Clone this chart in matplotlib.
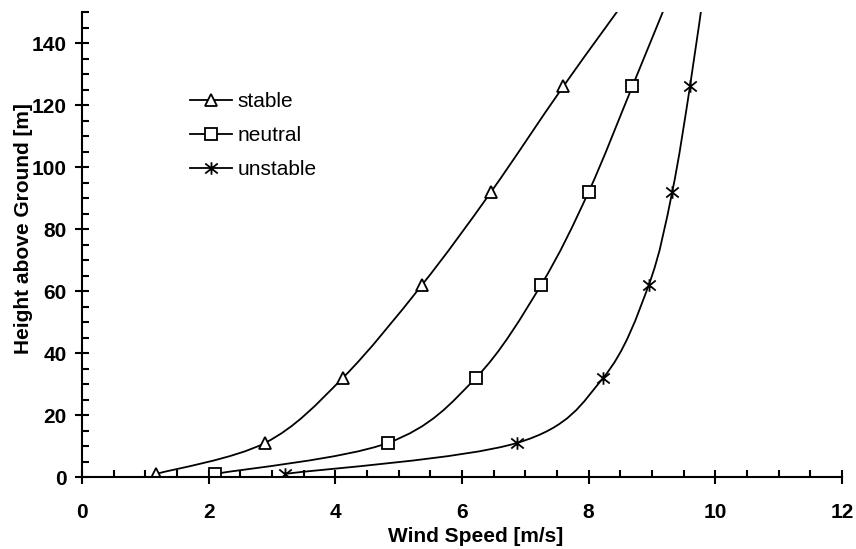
import numpy as np
import matplotlib.pyplot as plt
from matplotlib.path import Path
from matplotlib.patches import PathPatch
from matplotlib.lines import Line2D

# heights of the measuring points (last one lies above the plotted range)
heights = [1, 11, 32, 62, 92, 126, 160]

speed_stable = [1.17, 2.89, 4.12, 5.37, 6.46, 7.60, 8.80]
speed_neutral = [2.10, 4.83, 6.22, 7.25, 8.00, 8.69, 9.37]
speed_unstable = [3.20, 6.87, 8.23, 8.95, 9.32, 9.60, 9.84]

series_names = ['stable', 'neutral', 'unstable']

plt.rcParams['font.family'] = ['Liberation Sans', 'DejaVu Sans']

# asterisk marker like the spreadsheet one (x with a vertical bar)
star = Path([(0, -1), (0, 1), (-1, -0.8), (1, 0.8), (-1, 0.8), (1, -0.8)],
            [Path.MOVETO, Path.LINETO, Path.MOVETO, Path.LINETO, Path.MOVETO, Path.LINETO])


def smooth_path(xs, ys):
    # spreadsheet style smoothed line: bezier through every point
    pts = np.column_stack([xs, ys]).astype(float)
    n = len(pts)
    verts = [pts[0]]
    codes = [Path.MOVETO]
    for i in range(n - 1):
        p0 = pts[i - 1] if i > 0 else pts[i]
        p1 = pts[i]
        p2 = pts[i + 1]
        p3 = pts[i + 2] if i + 2 < n else pts[i + 1]
        c1 = p1 + (p2 - p0) / 6.0
        c2 = p2 - (p3 - p1) / 6.0
        verts += [c1, c2, p2]
        codes += [Path.CURVE4] * 3
    return Path(verts, codes)


fig = plt.figure(figsize=(8.56, 5.49), dpi=100)
ax = fig.add_axes([0.0958, 0.1311, 0.8878, 0.847])

markers = ['^', 's', star]
sizes = [9, 8, 9]
handles = []
for xs, m, ms, name in zip([speed_stable, speed_neutral, speed_unstable], markers, sizes, series_names):
    ax.add_patch(PathPatch(smooth_path(xs, heights), fill=False, lw=1.3, color='black'))
    ax.plot(xs, heights, linestyle='none', marker=m, ms=ms, mfc='white', mec='black', mew=1.3)
    handles.append(Line2D([], [], color='black', lw=1.3, marker=m, ms=ms, mfc='white',
                          mec='black', mew=1.3, label=name))

ax.set_xlim(0, 12)
ax.set_ylim(0, 150)
ax.set_xticks(np.arange(0, 13, 2))
ax.set_yticks(np.arange(0, 141, 20))
ax.set_xticks(np.arange(0, 12.01, 0.5), minor=True)
ax.set_yticks(np.arange(0, 150.1, 5), minor=True)

for s in ['top', 'right']:
    ax.spines[s].set_visible(False)
for s in ['left', 'bottom']:
    ax.spines[s].set_linewidth(1.5)

ax.tick_params(which='major', direction='inout', length=10, width=1.5, labelsize=15)
ax.tick_params(which='minor', direction='in', length=5, width=1.5)
ax.tick_params(axis='x', which='major', pad=14)
ax.tick_params(axis='y', which='major', pad=6)
for lab in ax.get_xticklabels() + ax.get_yticklabels():
    lab.set_fontweight('bold')

ax.set_xlabel('Wind Speed [m/s]', fontsize=15, fontweight='bold')
ax.set_ylabel('Height above Ground [m]', fontsize=15, fontweight='bold')
ax.xaxis.set_label_coords(0.518, -0.108)
ax.yaxis.set_label_coords(-0.064, 0.535)

ax.legend(handles=handles, loc='upper left', bbox_to_anchor=(0.142, 0.827), frameon=False,
          fontsize=15, handlelength=2.0, handletextpad=0.3, labelspacing=0.72,
          borderpad=0, borderaxespad=0)

fig.savefig('out.png', dpi=100)
